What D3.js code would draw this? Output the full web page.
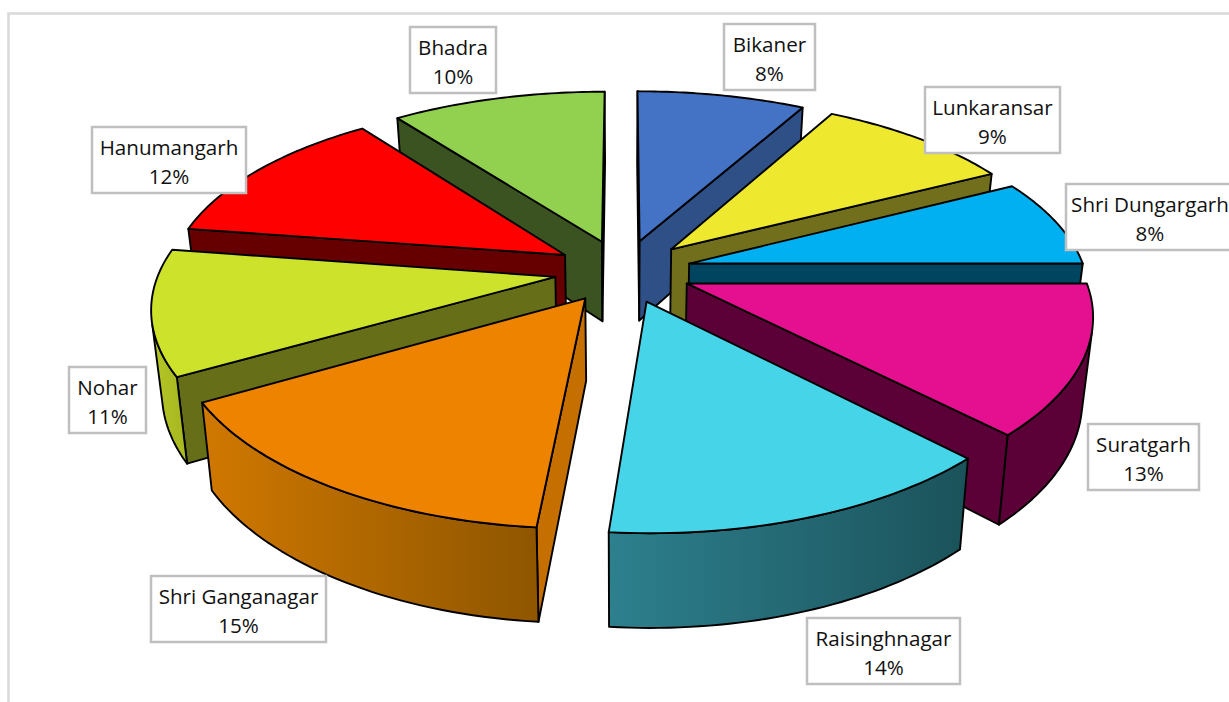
<!DOCTYPE html>
<html>
<head>
<meta charset="utf-8">
<script src="https://cdn.jsdelivr.net/npm/d3@7"></script>
<style>
html, body { margin: 0; padding: 0; background: #fff; overflow: hidden; }
text { font-family: "Open Sans", Lato, sans-serif; font-size: 20.6px; fill: #111; }
</style>
</head>
<body>
<svg id="chart" width="1229" height="702"></svg>
<script>
var categories = ["Bikaner", "Lunkaransar", "Shri Dungargarh", "Suratgarh", "Raisinghnagar", "Shri Ganganagar", "Nohar", "Hanumangarh", "Bhadra"];
// shares estimated from the slice edges, they round to the printed labels
var values = [8.0, 9.4, 7.6, 12.7, 13.7, 15.3, 10.7, 12.4, 10.2];

var topColors = ["#4472c4", "#eee82e", "#00b0f0", "#e5108f", "#45d4e8", "#ee8300", "#cde22a", "#ff0000", "#92d050"];
var sideColors = ["#2f5087", "#726f1c", "#004560", "#5c0038", "#1c565f", "#c46f00", "#666f18", "#660000", "#3b5320"];
var wallLeft = ["#2f5087", "#726f1c", "#004560", "#5c0038", "#2d808e", "#d07800", "#b5c626", "#660000", "#3b5320"];
var wallRight = ["#2f5087", "#726f1c", "#004560", "#5c0038", "#1b525a", "#8f5600", "#aabb22", "#660000", "#3b5320"];

// draw order, back of the pie first
var drawOrder = [0, 8, 7, 1, 2, 6, 3, 5, 4];

// label box left, top, width
var labelBoxes = [[724, 24, 91], [925, 87, 135], [1066, 184, 168], [1088, 424, 111], [807, 618, 153], [151, 576, 175], [69, 367, 77], [92, 127, 154], [410, 27, 86]];

var svg = d3.select("#chart"),
    cx = 623, cy = 271,
    rx = 396, ry = 183,
    perspX = 0.15,
    perspY = 0.162,
    explode = 0.173,
    lean = 0.977,
    thick = 81;

var pie = d3.pie().sort(null).value(d => d);
var arcs = pie(values);
var total = d3.sum(values);
var pct = d3.format(".0%");

// ground plane -> screen, v grows toward the viewer
function project(u, v) {
    var w = 1 / (1 - perspY * v);
    return {x: cx + rx * u / (1 - perspX * v), y: cy + ry * v * w, w: w};
}
function drop(p) {
    return {x: cx + (p.x - cx) * lean, y: p.y + thick * (0.27 + 0.73 * p.w)};
}
function line(pts) {
    return d3.line().x(d => d.x).y(d => d.y)(pts) + "Z";
}
function side(a, b, c) {
    return (b.x - a.x) * (c.y - a.y) - (b.y - a.y) * (c.x - a.x);
}

var defs = svg.append("defs");

svg.append("path")
    .attr("d", "M8.5,702V13.5H1229")
    .attr("fill", "none")
    .attr("stroke", "#d9d9d9")
    .attr("stroke-width", 2.5);

drawOrder.forEach(function(i) {
    var a = arcs[i],
        mid = (a.startAngle + a.endAngle) / 2,
        ox = Math.sin(mid) * explode,
        oy = -Math.cos(mid) * explode;

    var angles = d3.range(0, 41).map(k => a.startAngle + (a.endAngle - a.startAngle) * k / 40);
    var rim = angles.map(t => project(ox + Math.sin(t), oy - Math.cos(t)));
    var apex = project(ox, oy);
    var rimMid = rim[20];
    var g = svg.append("g").attr("class", "slice");

    var sideAttr = sel => sel
        .attr("stroke", "#000")
        .attr("stroke-width", 1.9)
        .attr("stroke-linejoin", "round");

    // the cut faces, only when they turn toward the viewer
    [rim[0], rim[rim.length - 1]].forEach(function(p) {
        if (side(apex, p, drop(apex)) * side(apex, p, rimMid) >= 0) return;
        g.append("path")
            .attr("d", line([apex, p, drop(p), drop(apex)]))
            .attr("fill", sideColors[i])
            .call(sideAttr);
    });

    // outer wall, keep just the part of the rim that faces front
    var front = rim.filter(function(p, k) {
        var q = k < rim.length - 1 ? rim[k + 1] : rim[k - 1];
        return side(p, q, drop(p)) * side(p, q, apex) < 0;
    });
    if (front.length > 1) {
        var xs = d3.extent(front, d => d.x);
        var grad = defs.append("linearGradient")
            .attr("id", "wall" + i)
            .attr("gradientUnits", "userSpaceOnUse")
            .attr("x1", xs[0]).attr("x2", xs[1])
            .attr("y1", 0).attr("y2", 0);
        grad.append("stop").attr("offset", 0).attr("stop-color", wallLeft[i]);
        grad.append("stop").attr("offset", 1).attr("stop-color", wallRight[i]);

        g.append("path")
            .attr("d", line(front.concat(front.map(drop).reverse())))
            .attr("fill", "url(#wall" + i + ")")
            .call(sideAttr);
    }

    g.append("path")
        .attr("d", line([apex].concat(rim)))
        .attr("fill", topColors[i])
        .call(sideAttr);
});

// data labels sit on top of everything
categories.forEach(function(name, i) {
    var b = labelBoxes[i], g = svg.append("g").attr("class", "label");
    g.append("rect")
        .attr("x", b[0]).attr("y", b[1])
        .attr("width", b[2]).attr("height", 66)
        .attr("fill", "#fff")
        .attr("stroke", "#bfbfbf")
        .attr("stroke-width", 2.5);
    g.append("text")
        .attr("x", b[0] + b[2] / 2).attr("y", b[1] + 28)
        .attr("text-anchor", "middle")
        .text(name);
    g.append("text")
        .attr("x", b[0] + b[2] / 2).attr("y", b[1] + 57)
        .attr("text-anchor", "middle")
        .text(pct(values[i] / total));
});
</script>
</body>
</html>
